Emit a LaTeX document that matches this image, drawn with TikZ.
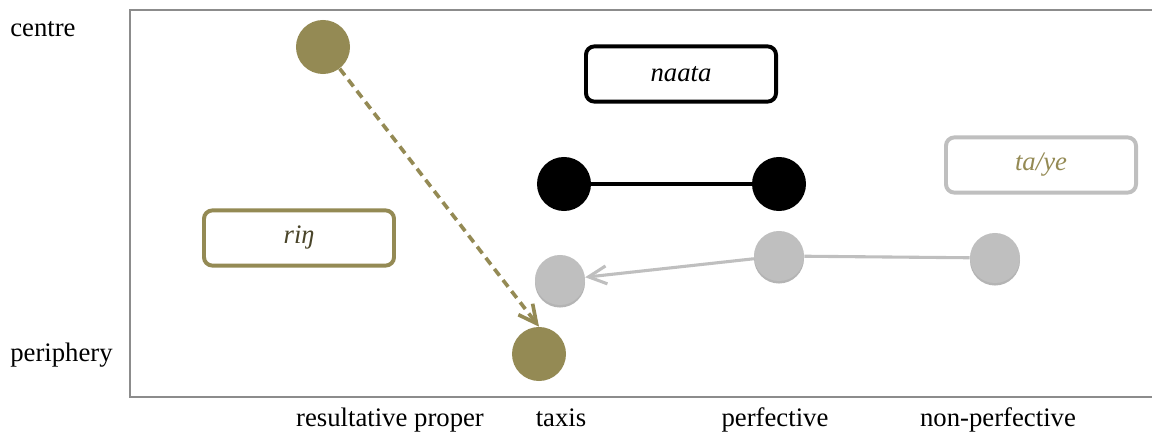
\documentclass[tikz,border=0pt]{standalone}
\usepackage{fontspec}
\setmainfont{Liberation Serif}
\usepackage{xcolor}
\usepackage{tikz}
\usetikzlibrary{positioning,shapes,arrows.meta,shadows}
\definecolor{olivedot}{HTML}{948A54}
\definecolor{olivetext}{HTML}{4A452A}
\definecolor{greydot}{HTML}{BFBFBF}
\definecolor{greyshadow}{HTML}{B4B4B4}
\definecolor{framegrey}{HTML}{8C8C8C}
\tikzset{
    dot/.style={circle, minimum size=1.35cm, inner sep=0pt},
    grey dot/.style={circle, fill=greydot, minimum size=1.25cm, inner sep=0pt,
        drop shadow={shadow xshift=0pt, shadow yshift=-1.8pt, fill=greyshadow, opacity=1}},
    label box/.style={rectangle, rounded corners=6pt, line width=2.8pt, fill=white,
        minimum width=4.75cm, minimum height=1.38cm, font=\fontsize{19}{22}\selectfont\itshape},
    axis label/.style={inner sep=0pt, font=\fontsize{19}{22}\selectfont},
    barb/.style={-{Straight Barb[length=0.45cm, width=0.45cm]}}
}

\begin{document}
\begin{tikzpicture}[x=0.025cm, y=-0.025cm]
    \useasboundingbox (0,0) rectangle (1152,432);
    \draw[framegrey, line width=1.4pt] (1160,10) -- (130,10) -- (130,397) -- (1160,397);

    % axis labels
    \node[axis label, anchor=base west] (centre) at (10,37) {centre};
    \node[axis label, anchor=base west] (periphery) at (10,362) {periphery};
    \node[axis label, anchor=base] (resprop) at (390,427) {resultative proper};
    \node[axis label, anchor=base] (taxis) at (561,427) {taxis};
    \node[axis label, anchor=base] (perf) at (775,427) {perfective};
    \node[axis label, anchor=base] (nonperf) at (998,427) {non-perfective};

    % boxes
    \node[label box, draw=black] (naata) at (681,74) {naata};
    \node[label box, draw=greydot, text=olivedot] (taye) at (1041,165) {ta/ye};
    \node[label box, draw=olivedot, text=olivetext] (rin) at (299,238) {riŋ};

    % dots
    \node[dot, fill=olivedot] (r1) at (323,47) {};
    \node[dot, fill=olivedot] (r2) at (539,354) {};
    \node[dot, fill=black] (n1) at (564,184) {};
    \node[dot, fill=black] (n2) at (779,184) {};
    \node[grey dot] (t1) at (560,280) {};
    \node[grey dot] (t2) at (779,256) {};
    \node[grey dot] (t3) at (995,258) {};

    \draw[line width=2.2pt] (n1) -- (n2);
    \draw[greydot, line width=2.2pt] (t3) -- (t2);
    \draw[greydot, line width=2.2pt, barb] (t2) -- (t1);
    \draw[olivedot, line width=2.6pt, dash pattern=on 6pt off 4pt, barb] (r1) -- (r2.north);

\end{tikzpicture}
\end{document}
